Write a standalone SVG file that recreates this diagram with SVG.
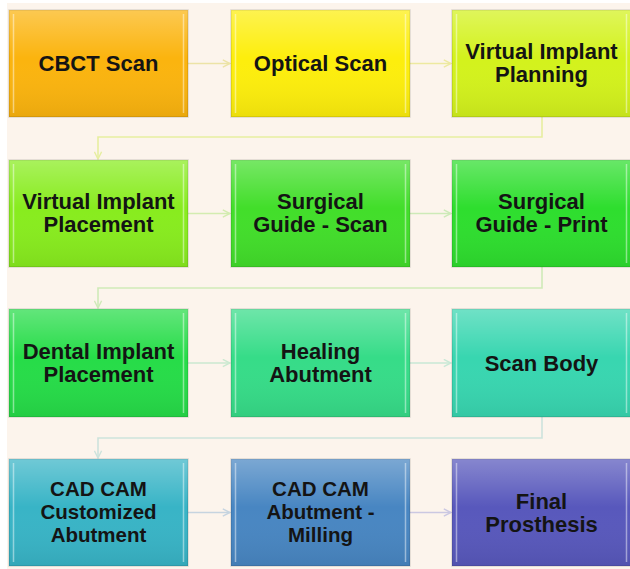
<svg xmlns="http://www.w3.org/2000/svg" width="630" height="569" viewBox="0 0 630 569">
<style>
.lbl{font-family:"Liberation Sans",Arial,sans-serif;font-weight:bold;font-size:22px;fill:#141414;text-anchor:middle}
.sm{font-size:20.5px}
.box{stroke:#000;stroke-opacity:.12;stroke-width:1.5}
.shade{fill:url(#shade)}
.bev{fill:none;stroke:#fff;stroke-opacity:.45;stroke-width:1.5}
.con{fill:none;stroke-width:1.6}
</style>
<defs>
<linearGradient id="shade" x1="0" y1="0" x2="0" y2="1">
<stop offset="0" stop-color="#fff" stop-opacity=".28"/>
<stop offset=".45" stop-color="#fff" stop-opacity="0"/>
<stop offset="1" stop-color="#000" stop-opacity=".07"/>
</linearGradient>
<marker id="ah" viewBox="0 0 10 10" refX="9" refY="5" markerWidth="9" markerHeight="9" markerUnits="userSpaceOnUse" orient="auto">
<path d="M1,1 L9,5 L1,9" fill="none" stroke="context-stroke" stroke-width="1.6"/>
</marker>
</defs>
<rect width="630" height="569" fill="#ffffff"/>
<rect x="7" y="3" width="623" height="566" fill="#fcf4ec"/>

<g id="connectors">
<path class="con" stroke="#ece3a6" d="M188,63.5 H230" marker-end="url(#ah)"/>
<path class="con" stroke="#ede9a0" d="M410,63.5 H451" marker-end="url(#ah)"/>
<path class="con" stroke="#e6eea0" d="M542,117 V137 H98 V159" marker-end="url(#ah)"/>
<path class="con" stroke="#d3ecb0" d="M188,213.5 H230" marker-end="url(#ah)"/>
<path class="con" stroke="#cdeab8" d="M410,213.5 H451" marker-end="url(#ah)"/>
<path class="con" stroke="#cfeab8" d="M542,267 V288 H98 V308" marker-end="url(#ah)"/>
<path class="con" stroke="#cbe9d0" d="M188,363 H230" marker-end="url(#ah)"/>
<path class="con" stroke="#c8e8d6" d="M410,363 H451" marker-end="url(#ah)"/>
<path class="con" stroke="#cde3dc" d="M542,417 V438 H98 V458" marker-end="url(#ah)"/>
<path class="con" stroke="#c6d4e0" d="M188,512.5 H230" marker-end="url(#ah)"/>
<path class="con" stroke="#cbc8e2" d="M410,512.5 H451" marker-end="url(#ah)"/>
</g>

<g id="n1">
<rect class="box" x="9" y="10" width="179" height="107" fill="#fbb40e"/>
<rect class="shade" x="9" y="10" width="179" height="107"/>
<path class="bev" d="M13.5,14 V113 M183.5,14 V113"/>
<text class="lbl" x="98.5" y="71">CBCT Scan</text>
</g>
<g id="n2">
<rect class="box" x="231" y="10" width="179" height="107" fill="#fdee0c"/>
<rect class="shade" x="231" y="10" width="179" height="107"/>
<path class="bev" d="M235.5,14 V113 M405.5,14 V113"/>
<text class="lbl" x="320.5" y="71">Optical Scan</text>
</g>
<g id="n3">
<rect class="box" x="452" y="10" width="179" height="107" fill="#d3f21c"/>
<rect class="shade" x="452" y="10" width="179" height="107"/>
<path class="bev" d="M456.5,14 V113 M626.5,14 V113"/>
<text class="lbl" x="541.5" y="59">Virtual Implant</text>
<text class="lbl" x="541.5" y="82">Planning</text>
</g>

<g id="n4">
<rect class="box" x="9" y="160" width="179" height="107" fill="#88ec1e"/>
<rect class="shade" x="9" y="160" width="179" height="107"/>
<path class="bev" d="M13.5,164 V263 M183.5,164 V263"/>
<text class="lbl" x="98.5" y="209">Virtual Implant</text>
<text class="lbl" x="98.5" y="232">Placement</text>
</g>
<g id="n5">
<rect class="box" x="231" y="160" width="179" height="107" fill="#42de2a"/>
<rect class="shade" x="231" y="160" width="179" height="107"/>
<path class="bev" d="M235.5,164 V263 M405.5,164 V263"/>
<text class="lbl" x="320.5" y="209">Surgical</text>
<text class="lbl" x="320.5" y="232">Guide - Scan</text>
</g>
<g id="n6">
<rect class="box" x="452" y="160" width="179" height="107" fill="#2ede2e"/>
<rect class="shade" x="452" y="160" width="179" height="107"/>
<path class="bev" d="M456.5,164 V263 M626.5,164 V263"/>
<text class="lbl" x="541.5" y="209">Surgical</text>
<text class="lbl" x="541.5" y="232">Guide - Print</text>
</g>

<g id="n7">
<rect class="box" x="9" y="309" width="179" height="108" fill="#26dc48"/>
<rect class="shade" x="9" y="309" width="179" height="108"/>
<path class="bev" d="M13.5,313 V413 M183.5,313 V413"/>
<text class="lbl" x="98.5" y="359">Dental Implant</text>
<text class="lbl" x="98.5" y="382">Placement</text>
</g>
<g id="n8">
<rect class="box" x="231" y="309" width="179" height="108" fill="#36dc88"/>
<rect class="shade" x="231" y="309" width="179" height="108"/>
<path class="bev" d="M235.5,313 V413 M405.5,313 V413"/>
<text class="lbl" x="320.5" y="359">Healing</text>
<text class="lbl" x="320.5" y="382">Abutment</text>
</g>
<g id="n9">
<rect class="box" x="452" y="309" width="179" height="108" fill="#38d6b0"/>
<rect class="shade" x="452" y="309" width="179" height="108"/>
<path class="bev" d="M456.5,313 V413 M626.5,313 V413"/>
<text class="lbl" x="541.5" y="371">Scan Body</text>
</g>

<g id="n10">
<rect class="box" x="9" y="459" width="179" height="107" fill="#38b4c6"/>
<rect class="shade" x="9" y="459" width="179" height="107"/>
<path class="bev" d="M13.5,463 V562 M183.5,463 V562"/>
<text class="lbl sm" x="98.5" y="496">CAD CAM</text>
<text class="lbl sm" x="98.5" y="519">Customized</text>
<text class="lbl sm" x="98.5" y="542">Abutment</text>
</g>
<g id="n11">
<rect class="box" x="231" y="459" width="179" height="107" fill="#4886c2"/>
<rect class="shade" x="231" y="459" width="179" height="107"/>
<path class="bev" d="M235.5,463 V562 M405.5,463 V562"/>
<text class="lbl sm" x="320.5" y="496">CAD CAM</text>
<text class="lbl sm" x="320.5" y="519">Abutment -</text>
<text class="lbl sm" x="320.5" y="542">Milling</text>
</g>
<g id="n12">
<rect class="box" x="452" y="459" width="179" height="107" fill="#5858bc"/>
<rect class="shade" x="452" y="459" width="179" height="107"/>
<path class="bev" d="M456.5,463 V562 M626.5,463 V562"/>
<text class="lbl" x="541.5" y="509">Final</text>
<text class="lbl" x="541.5" y="532">Prosthesis</text>
</g>
</svg>
